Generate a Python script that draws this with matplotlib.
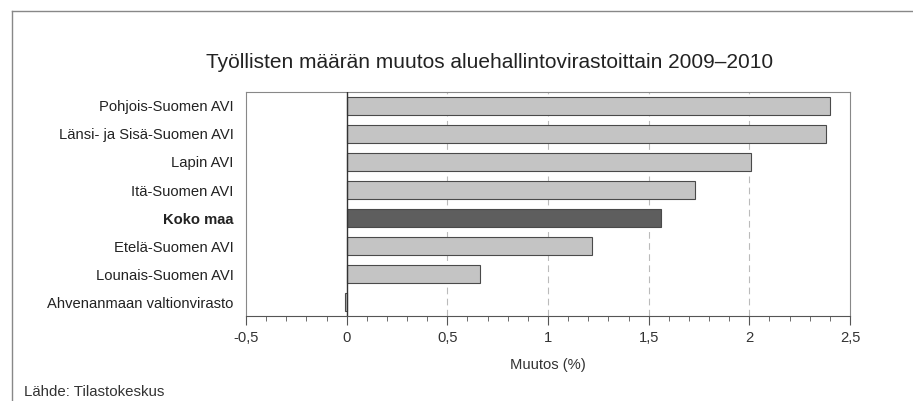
import matplotlib.pyplot as plt
from matplotlib.lines import Line2D

plt.rcParams['font.family'] = ['Liberation Sans', 'DejaVu Sans']

categories = ['Pohjois-Suomen AVI', 'Länsi- ja Sisä-Suomen AVI', 'Lapin AVI',
              'Itä-Suomen AVI', 'Koko maa', 'Etelä-Suomen AVI',
              'Lounais-Suomen AVI', 'Ahvenanmaan valtionvirasto']
values = [2.40, 2.38, 2.01, 1.73, 1.56, 1.22, 0.66, -0.01]
xticks = [-0.5, 0, 0.5, 1, 1.5, 2, 2.5]
xtick_labels = ['-0,5', '0', '0,5', '1', '1,5', '2', '2,5']

fig = plt.figure(figsize=(9.13, 4.01), dpi=100)
ax = fig.add_axes([246/913, 1 - 316/401, 604/913, 224/401])

ypos = list(range(len(categories)))
colors = ['#5e5e5e' if c == 'Koko maa' else '#c4c4c4' for c in categories]
ax.barh(ypos, values, height=0.67, color=colors, edgecolor='#4a4a4a', linewidth=0.8, zorder=3)

ax.set_ylim(len(categories) - 0.5, -0.5)
ax.set_xlim(-0.5, 2.5)
ax.set_yticks(ypos)
ax.set_yticklabels(categories, fontsize=10.6, color='#222222')
for lbl in ax.get_yticklabels():
    if lbl.get_text() == 'Koko maa':
        lbl.set_fontweight('bold')
ax.tick_params(axis='y', length=0, pad=9)

ax.set_xticks(xticks)
ax.set_xticklabels(xtick_labels, fontsize=10.6, color='#333333')
ax.set_xticks([i / 10 for i in range(-5, 26)], minor=True)
ax.tick_params(axis='x', which='major', length=6.5, color='#555555', pad=4)
ax.tick_params(axis='x', which='minor', length=3.6, color='#555555')

# dashed grid, solid line at zero
for x in [0.5, 1, 1.5, 2]:
    ax.axvline(x, color='#bbbbbb', linestyle=(0, (6, 4)), linewidth=0.8, zorder=1)
ax.axvline(0, color='#333333', linewidth=1.0, zorder=4)

for s in ['top', 'right', 'left']:
    ax.spines[s].set_color('#888888')
ax.spines['bottom'].set_color('#555555')

ax.set_xlabel('Muutos (%)', fontsize=10.6, color='#333333', labelpad=10)

fig.text(490/913, 1 - 62/401, 'Työllisten määrän muutos aluehallintovirastoittain 2009–2010',
         ha='center', va='center', fontsize=15, color='#222222')
fig.text(24/913, 1 - 392/401, 'Lähde: Tilastokeskus', ha='left', va='center',
         fontsize=10.8, color='#333333')

# outer frame (top and left edges)
fig.add_artist(Line2D([12/913, 1], [1 - 11/401, 1 - 11/401], color='#888888', linewidth=1))
fig.add_artist(Line2D([12/913, 12/913], [1 - 11/401, 0], color='#888888', linewidth=1))

fig.savefig('out.png', dpi=100)
